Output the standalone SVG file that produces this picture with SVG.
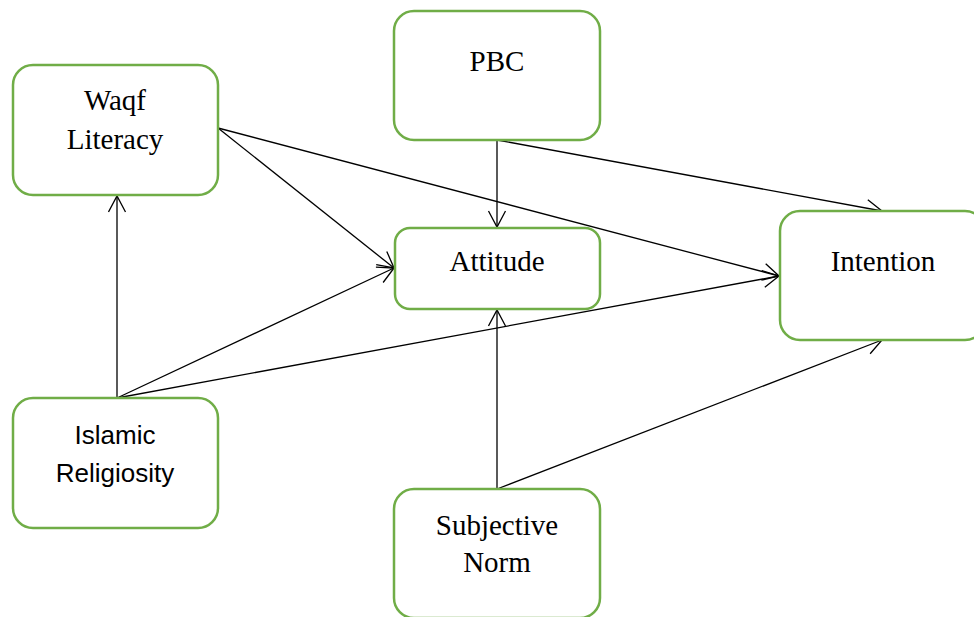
<svg xmlns="http://www.w3.org/2000/svg" width="974" height="617" viewBox="0 0 974 617">
<style>
.box{fill:#fff;stroke:#70ad47;stroke-width:2.5}
.t{font-family:"Liberation Serif","Times New Roman",serif;font-size:29px;fill:#000;text-anchor:middle}
.s{font-family:"Liberation Sans",Arial,sans-serif;font-size:26px;fill:#000;text-anchor:middle}
.c line{stroke:#000;stroke-width:1.3;marker-end:url(#a)}
</style>
<defs>
<marker id="a" markerUnits="userSpaceOnUse" markerWidth="20" markerHeight="22" refX="17" refY="9.5" orient="auto">
<path d="M1,1 L17,9.5 L1,18" fill="none" stroke="#000" stroke-width="1.3"/>
</marker>
</defs>
<rect width="974" height="617" fill="#fff"/>
<g class="c" id="connectors">
<line x1="117" y1="398" x2="117" y2="196"/>
<line x1="117" y1="398" x2="394" y2="268"/>
<line x1="117" y1="398" x2="779" y2="276"/>
<line x1="218" y1="128" x2="394" y2="268"/>
<line x1="218" y1="128" x2="779" y2="276"/>
<line x1="497" y1="140" x2="497" y2="227"/>
<line x1="497" y1="140" x2="882" y2="211"/>
<line x1="497" y1="489" x2="497" y2="310"/>
<line x1="497" y1="489" x2="882" y2="340"/>
</g>
<g id="waqf"><rect class="box" x="13" y="65" width="205" height="130" rx="20"/><text class="t" x="115" y="110">Waqf</text><text class="t" x="115" y="149">Literacy</text></g>
<g id="pbc"><rect class="box" x="394" y="11" width="206" height="129" rx="20"/><text class="t" x="497" y="71">PBC</text></g>
<g id="attitude"><rect class="box" x="395" y="228" width="205" height="81" rx="15"/><text class="t" x="497" y="271">Attitude</text></g>
<g id="intention"><rect class="box" x="780" y="211" width="205" height="129" rx="20"/><text class="t" x="883" y="271">Intention</text></g>
<g id="islamic"><rect class="box" x="13" y="398" width="205" height="130" rx="20"/><text class="s" x="115" y="444">Islamic</text><text class="s" x="115" y="482">Religiosity</text></g>
<g id="subjective"><rect class="box" x="394" y="489" width="206" height="129" rx="20"/><text class="t" x="497" y="535">Subjective</text><text class="t" x="497" y="572">Norm</text></g>
</svg>
